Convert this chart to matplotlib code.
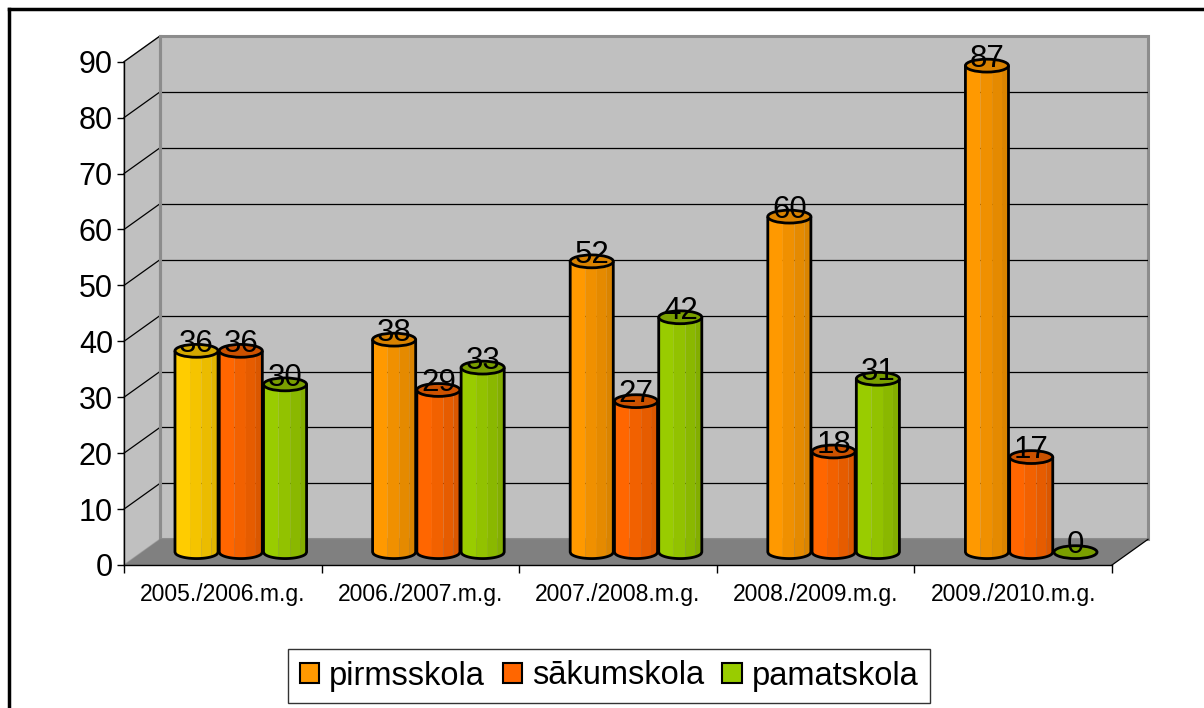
import numpy as np
import matplotlib
matplotlib.use("Agg")
import matplotlib.pyplot as plt
from matplotlib.patches import Polygon, Ellipse, Patch
from matplotlib.lines import Line2D

plt.rcParams['font.family'] = ['Liberation Sans', 'DejaVu Sans']

categories = ["2005./2006.m.g.", "2006./2007.m.g.", "2007./2008.m.g.",
              "2008./2009.m.g.", "2009./2010.m.g."]
series_names = ["pirmsskola", "sākumskola", "pamatskola"]
pirmsskola = [36, 38, 52, 60, 87]
sakumskola = [36, 29, 27, 18, 17]
pamatskola = [30, 33, 42, 31, 0]
values = [pirmsskola, sakumskola, pamatskola]
yticks = list(range(0, 100, 10))

# shades: left strip, strip2, strip3, right strip, top
shades = {
    "orange": ["#FF9900", "#F09000", "#E58A00", "#DA8400", "#D98200"],
    "red":    ["#FF6600", "#F26100", "#E65C00", "#DA5700", "#CC5200"],
    "green":  ["#99CC00", "#92C200", "#8AB800", "#83AE00", "#7A9F00"],
    "yellow": ["#FFCC00", "#F5C400", "#EBBC00", "#E0B400", "#D4A800"],
}
series_colors = ["orange", "red", "green"]
legend_colors = ["#FF9900", "#FF6600", "#99CC00"]

W, H = 1204, 708
fig = plt.figure(figsize=(W / 100, H / 100), dpi=100)

# axes in pixel layout
ax_left, ax_right, ax_top, ax_bottom = 124, 1148, 36, 565
ax = fig.add_axes([ax_left / W, 1 - ax_bottom / H,
                   (ax_right - ax_left) / W, (ax_bottom - ax_top) / H])
ncat = len(categories)
dx, dy = 0.182, 4.6          # depth vector in data units
ymax = 90
ax.set_xlim(0, ncat + dx)
ax.set_ylim(0, ymax + dy)
ax.patch.set_visible(False)

# walls
side = Polygon([(0, 0), (dx, dy), (dx, ymax + dy), (0, ymax)], closed=True,
               facecolor="#C0C0C0", edgecolor="#A0A0A0", lw=1, zorder=1)
back = Polygon([(dx, dy), (ncat + dx, dy), (ncat + dx, ymax + dy), (dx, ymax + dy)],
               closed=True, facecolor="#C0C0C0", edgecolor="#8C8C8C", lw=2.2, zorder=1)
floor = Polygon([(0, 0), (ncat, 0), (ncat + dx, dy), (dx, dy)], closed=True,
                facecolor="#808080", edgecolor="none", zorder=1.5)
for p in (side, back, floor):
    p.set_clip_on(False)
    ax.add_patch(p)
ax.plot([ncat, ncat + dx], [0, dy], color="black", lw=0.9, zorder=1.6, clip_on=False)
ax.plot([dx, dx], [dy, ymax + dy], color="#8C8C8C", lw=2.2, zorder=1.4, clip_on=False)

# gridlines
for v in yticks[1:-1]:
    ax.plot([dx, ncat + dx], [v + dy, v + dy], color="black", lw=0.9, zorder=1.2)
for v in yticks[1:]:
    ax.plot([0, dx], [v, v + dy], color="black", lw=0.9, zorder=1.2, clip_on=False)

# spines / ticks
for s in ("top", "right"):
    ax.spines[s].set_visible(False)
ax.spines["left"].set_bounds(0, ymax)
ax.spines["bottom"].set_bounds(0, ncat)
ax.spines["left"].set_linewidth(1.0)
ax.spines["bottom"].set_linewidth(1.0)
ax.spines["left"].set_zorder(3)
ax.spines["bottom"].set_zorder(3)
ax.set_yticks(yticks)
ax.set_yticklabels([str(t) for t in yticks], fontsize=22)
ax.tick_params(axis="y", direction="out", length=5, width=1, pad=3)
ax.set_xticks(np.arange(0, ncat + 1))
ax.set_xticklabels([])
ax.tick_params(axis="x", direction="out", length=6, width=1)
for i, c in enumerate(categories):
    ax.text(i + 0.5, -5.2, c, ha="center", va="center", fontsize=16.5)

# cylinders
pitch, bw = 0.224, 0.218
eh = 2.3
base = dy / 2


def cylinder(xc, val, cols):
    x0, x1 = xc - bw / 2, xc + bw / 2
    ytop = base + val
    def arc(xs):
        t = np.clip((xs - xc) / (bw / 2), -1, 1)
        return base - eh / 2 * np.sqrt(1 - t ** 2)
    if val > 0:
        fr = [0, 0.35, 0.62, 0.85, 1.0]
        for k in range(4):
            xa, xb = x0 + fr[k] * bw, x0 + fr[k + 1] * bw
            xs = np.linspace(xa, xb, 20)
            pts = [(xa, ytop)] + list(zip(xs, arc(xs))) + [(xb, ytop)]
            ax.add_patch(Polygon(pts, closed=True, facecolor=cols[k],
                                 edgecolor="none", zorder=4))
        xs = np.linspace(x0, x1, 60)
        pts = [(x0, ytop)] + list(zip(xs, arc(xs))) + [(x1, ytop)]
        ax.add_patch(Polygon(pts, closed=False, facecolor="none",
                             edgecolor="black", lw=2.0, zorder=5,
                             joinstyle="round"))
    ax.add_patch(Ellipse((xc, ytop), bw, eh, facecolor=cols[4],
                         edgecolor="black", lw=2.0, zorder=6))
    ax.text(xc, ytop + 1.2, str(val), ha="center", va="center",
            fontsize=22.5, zorder=7)


for i in range(ncat):
    for j in range(3):
        xc = i + 0.5 + (j - 1) * pitch + dx / 2
        cname = series_colors[j]
        if i == 0 and j == 0:
            cname = "yellow"
        cylinder(xc, values[j][i], shades[cname])

# legend
handles = [Patch(facecolor=c, edgecolor="black", lw=1.5) for c in legend_colors]
leg = fig.legend(handles, series_names, loc="center",
                 bbox_to_anchor=(609 / W, 1 - 676 / H), ncol=3, fontsize=23.5,
                 frameon=True, fancybox=False, edgecolor="black",
                 handlelength=0.6, handleheight=0.6, handletextpad=0.3,
                 columnspacing=0.55, borderpad=0.35, borderaxespad=0)
leg.get_frame().set_linewidth(1.0)

# outer border (left and top only visible)
fig.add_artist(Line2D([9 / W, 9 / W], [0, 1 - 9 / H], color="black", lw=2.5,
                      transform=fig.transFigure))
fig.add_artist(Line2D([9 / W, 1], [1 - 9 / H, 1 - 9 / H], color="black", lw=2.5,
                      transform=fig.transFigure))

fig.savefig("out.png", dpi=100)
